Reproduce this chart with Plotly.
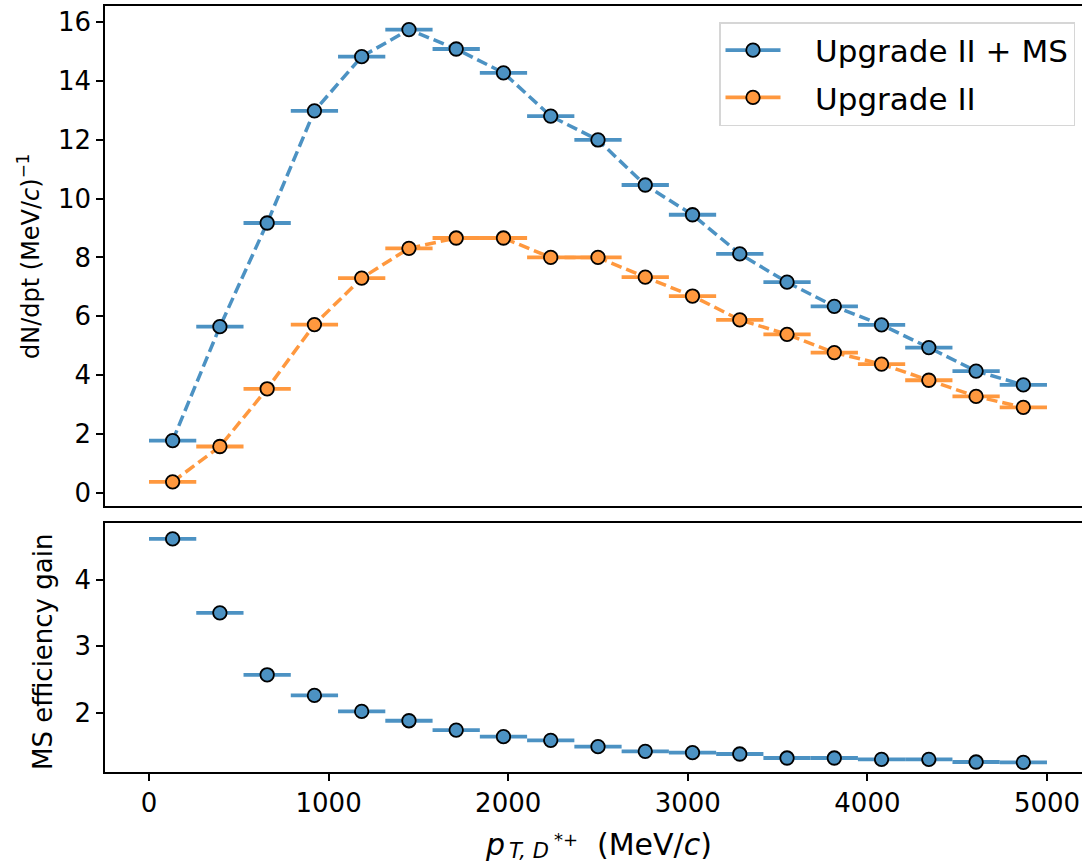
import plotly.graph_objects as go
from plotly.subplots import make_subplots

# pT bin centres (MeV/c) and half bin width
pt_centers = [131.6, 394.7, 657.9, 921.1, 1184.2, 1447.4, 1710.5, 1973.7, 2236.8,
              2500.0, 2763.2, 3026.3, 3289.5, 3552.6, 3815.8, 4078.9, 4342.1,
              4605.3, 4868.4]
half_width = 131.6

# dN/dpt spectra
yield_ms = [1.78, 5.65, 9.17, 12.98, 14.82, 15.74, 15.08, 14.27, 12.80, 11.99,
            10.46, 9.45, 8.12, 7.16, 6.34, 5.71, 4.94, 4.14, 3.67]
yield_up2 = [0.38, 1.58, 3.54, 5.72, 7.30, 8.31, 8.66, 8.66, 8.00, 8.00,
             7.33, 6.69, 5.88, 5.39, 4.77, 4.38, 3.83, 3.28, 2.91]

# MS efficiency gain per bin
gain = [4.61, 3.50, 2.57, 2.26, 2.02, 1.88, 1.74, 1.64, 1.585, 1.49,
        1.42, 1.40, 1.38, 1.32, 1.32, 1.30, 1.30, 1.26, 1.255]

names = ["Upgrade II + MS", "Upgrade II"]
blue = "#4c92c3"
orange = "#ff983e"
FONT = "DejaVu Sans"

xerr = [half_width] * len(pt_centers)
marker_edge = dict(color="black", width=1.8)

fig = make_subplots(rows=2, cols=1, shared_xaxes=False, vertical_spacing=0.0)


def spectrum_trace(y, color):
    return go.Scatter(
        x=pt_centers, y=y, mode="lines+markers", showlegend=False,
        line=dict(color=color, width=3.5, dash="11px,5px"),
        marker=dict(size=13.5, color=color, line=marker_edge),
        error_x=dict(type="data", array=xerr, symmetric=True, color=color,
                     thickness=3.8, width=0),
    )


fig.add_trace(spectrum_trace(yield_ms, blue), row=1, col=1)
fig.add_trace(spectrum_trace(yield_up2, orange), row=1, col=1)

# legend entries
for i, (nm, col) in enumerate(zip(names, [blue, orange])):
    fig.add_trace(go.Scatter(
        x=[None], y=[None], mode="lines+markers",
        name="\u00a0\u00a0\u00a0" + nm, legendgroup=f"g{i}",
        line=dict(color=col, width=3.8),
        marker=dict(size=13.5, color=col, line=marker_edge),
    ), row=1, col=1)

fig.add_trace(go.Scatter(
    x=pt_centers, y=gain, mode="markers", showlegend=False,
    marker=dict(size=13.5, color=blue, line=marker_edge),
    error_x=dict(type="data", array=xerr, symmetric=True, color=blue,
                 thickness=3.8, width=0),
), row=2, col=1)

xrange = [-245, 5195]
axis_common = dict(showline=True, linecolor="black", linewidth=1.6,
                   showgrid=False, zeroline=False,
                   tickfont=dict(family=FONT, size=26, color="black"))
tick_style = dict(ticks="outside", ticklen=7, tickwidth=1.5, tickcolor="black")

fig.update_layout(
    width=1082, height=863,
    margin=dict(l=105, r=0, t=6, b=91),
    plot_bgcolor="white", paper_bgcolor="white",
    font=dict(family=FONT, color="black"),
    xaxis=dict(domain=[0, 1], range=xrange, anchor="y", mirror=True,
               showticklabels=False, ticks="", **axis_common),
    yaxis=dict(domain=[0.3473, 1], range=[-0.44, 16.54], anchor="x",
               tickvals=[0, 2, 4, 6, 8, 10, 12, 14, 16],
               **tick_style, **axis_common),
    xaxis2=dict(domain=[0, 1], range=xrange, anchor="y2", mirror=True,
                tickvals=[0, 1000, 2000, 3000, 4000, 5000],
                **tick_style, **axis_common),
    yaxis2=dict(domain=[0, 0.3251], range=[1.11, 4.85], anchor="x2",
                tickvals=[2, 3, 4], **tick_style, **axis_common),
    legend=dict(x=(1075 - 105) / 977, xanchor="right",
                y=(772 - 22) / 766, yanchor="top",
                bgcolor="white", bordercolor="#d6d6d6", borderwidth=1.5,
                font=dict(family=FONT, size=31, color="black"),
                itemwidth=55, tracegroupgap=4),
)

# axis titles
fig.add_annotation(
    text="dN/dpt (MeV/<i>c</i>)<sup>\u22121</sup>", textangle=-90,
    xref="paper", yref="paper", x=(29 - 105) / 977, y=(772 - 257) / 766,
    xanchor="center", yanchor="middle", showarrow=False,
    font=dict(family=FONT, size=24, color="black"),
)
fig.add_annotation(
    text="MS efficiency gain", textangle=-90,
    xref="paper", yref="paper", x=(43 - 105) / 977, y=(772 - 652) / 766,
    xanchor="center", yanchor="middle", showarrow=False,
    font=dict(family=FONT, size=26, color="black"),
)


def px_x(px):
    return (px - 105) / 977


def px_y(py):
    return (772 - py) / 766


# x title: p_{T, D^{*+}}   (MeV/c)
xtitle_parts = [
    ("<i>p</i>", 30, 484, 844),
    ("<i>T, D</i>", 21, 508, 851),
    ("*+", 18, 553, 839),
    ("(MeV/<i>c</i>)", 30, 596, 844),
]
for txt, size, xp, yp in xtitle_parts:
    fig.add_annotation(
        text=txt, xref="paper", yref="paper", x=px_x(xp), y=px_y(yp),
        xanchor="left", yanchor="middle", showarrow=False, borderpad=0,
        font=dict(family=FONT, size=size, color="black"),
    )

fig.write_html("out.html")
